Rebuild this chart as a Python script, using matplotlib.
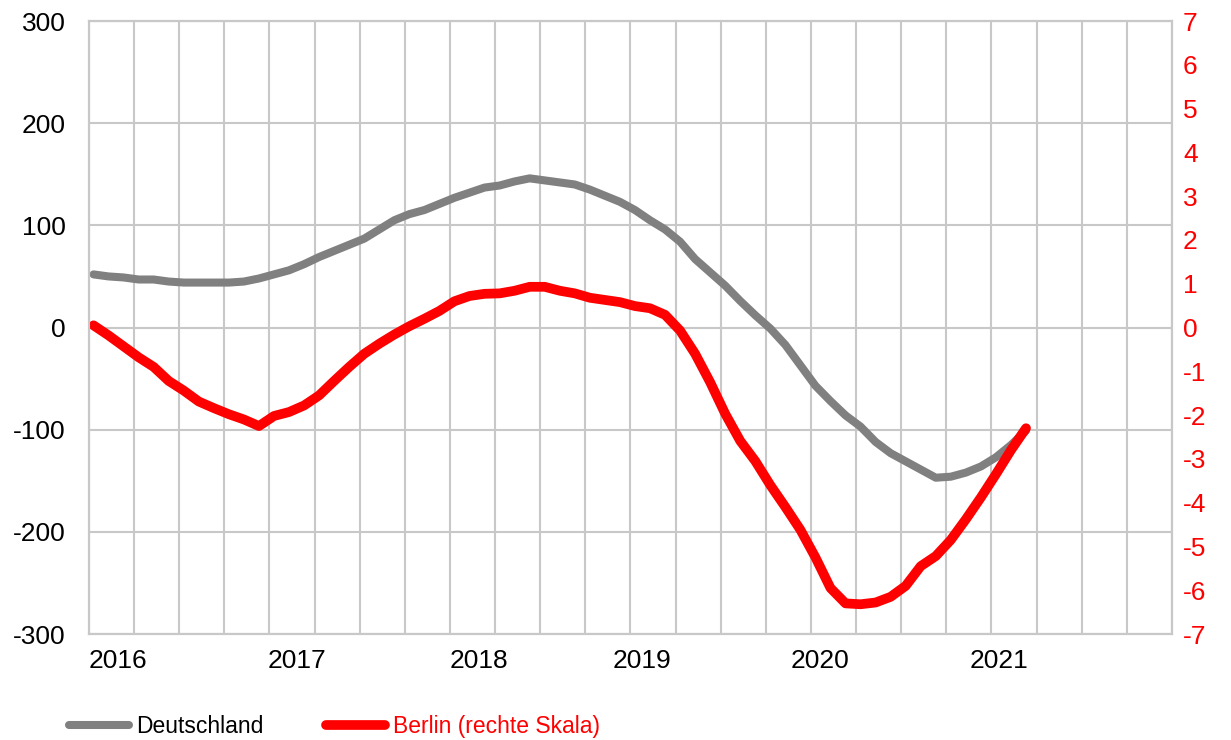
import matplotlib.pyplot as plt
import numpy as np

plt.rcParams['font.family'] = ['Liberation Sans', 'DejaVu Sans']
plt.rcParams['axes.unicode_minus'] = False

# Monatswerte (Index = Monat seit Anfang 2016)
monate = np.arange(63) + 0.3

deutschland = [52, 50, 49, 47, 47, 45, 44, 44, 44, 44,
               45, 48, 52, 56, 62, 69, 75, 81, 87, 96,
               105, 111, 115, 121, 127, 132, 137, 139, 143, 146,
               144, 142, 140, 135, 129, 123, 115, 105, 96, 84,
               67, 54, 41, 26, 12, -1, -17, -37, -57, -72,
               -86, -97, -112, -123, -131, -139, -147, -146, -142, -136,
               -127, -115, -101]

berlin = [0.05, -0.18, -0.43, -0.68, -0.90, -1.22, -1.44, -1.69, -1.84, -1.98,
          -2.10, -2.25, -2.02, -1.93, -1.78, -1.55, -1.22, -0.90, -0.60, -0.37,
          -0.16, 0.03, 0.20, 0.38, 0.60, 0.72, 0.77, 0.78, 0.84, 0.93,
          0.93, 0.84, 0.78, 0.68, 0.63, 0.58, 0.49, 0.44, 0.29, -0.07,
          -0.60, -1.25, -1.97, -2.59, -3.05, -3.60, -4.10, -4.62, -5.25, -5.95,
          -6.30, -6.32, -6.28, -6.15, -5.90, -5.45, -5.22, -4.85, -4.38, -3.88,
          -3.35, -2.80, -2.30]

jahre = ['2016', '2017', '2018', '2019', '2020', '2021']
jahr_pos = [1.9, 13.8, 25.9, 36.8, 48.6, 60.5]

grau = '#808080'
rot = '#FF0000'
gitter = '#C8C8C8'

fig = plt.figure(figsize=(12.31, 7.40), dpi=100)
ax = fig.add_axes([0.0723, 0.1432, 0.8797, 0.8284])
ax2 = ax.twinx()

l1, = ax.plot(monate, deutschland, color=grau, linewidth=5.8,
              solid_capstyle='round', solid_joinstyle='round', label='Deutschland')
l2, = ax2.plot(monate, berlin, color=rot, linewidth=7,
               solid_capstyle='round', solid_joinstyle='round', label='Berlin (rechte Skala)')

ax.set_xlim(0, 72)
ax.set_ylim(-300, 300)
ax2.set_ylim(-7, 7)

ax.set_yticks(range(-300, 301, 100))
ax2.set_yticks(range(-7, 8))

ax.set_xticks(range(0, 73, 3))
ax.set_xticklabels([])
ax.set_xticks(jahr_pos, jahre, minor=True)

ax.grid(True, which='major', color=gitter, linewidth=1.5)
ax.set_axisbelow(True)

ax.tick_params(axis='x', which='both', length=0)
ax.tick_params(axis='x', which='minor', labelsize=19, pad=11)
ax.tick_params(axis='y', length=0, labelsize=19, pad=17)
ax2.tick_params(axis='y', length=0, labelsize=19, pad=8, labelcolor=rot)

for a in (ax, ax2):
    for s in a.spines.values():
        s.set_color(gitter)
        s.set_linewidth(1.5)

leg = fig.legend(handles=[l1, l2], loc='center left', bbox_to_anchor=(0.056, 0.0176),
                 ncol=2, frameon=False, fontsize=16.5, handlelength=2.6,
                 handletextpad=0.35, columnspacing=2.7, borderpad=0, borderaxespad=0)
leg.get_texts()[1].set_color(rot)

fig.savefig('out.png', dpi=100)
